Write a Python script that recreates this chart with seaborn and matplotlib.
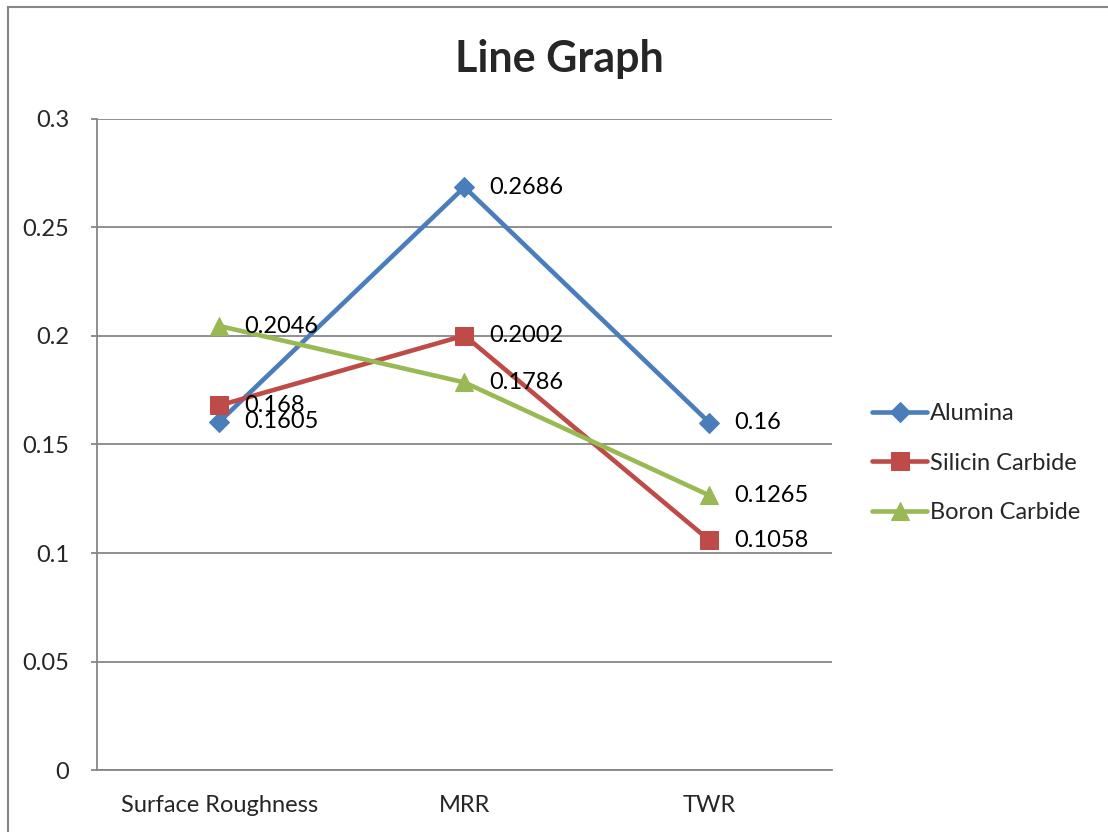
import matplotlib
matplotlib.use("Agg")
import matplotlib.pyplot as plt
import seaborn as sns
import pandas as pd
from matplotlib.patches import Rectangle

# Measured properties for each abrasive
categories = ["Surface Roughness", "MRR", "TWR"]
alumina = [0.1605, 0.2686, 0.16]
silicin_carbide = [0.168, 0.2002, 0.1058]
boron_carbide = [0.2046, 0.1786, 0.1265]
series_names = ["Alumina", "Silicin Carbide", "Boron Carbide"]
y_ticks = [0, 0.05, 0.1, 0.15, 0.2, 0.25, 0.3]
y_tick_labels = ["0", "0.05", "0.1", "0.15", "0.2", "0.25", "0.3"]

sns.set_theme(style="white")
plt.rcParams["font.family"] = ["Lato", "DejaVu Sans"]

colors = {"Alumina": "#4A7EBB", "Silicin Carbide": "#BE4B48", "Boron Carbide": "#98B954"}
markers = {"Alumina": "D", "Silicin Carbide": "s", "Boron Carbide": "^"}
sizes = {"Alumina": 10, "Silicin Carbide": 13, "Boron Carbide": 13}

rows = []
for name, vals in zip(series_names, [alumina, silicin_carbide, boron_carbide]):
    for i, (cat, v) in enumerate(zip(categories, vals)):
        rows.append({"Category": cat, "pos": i, "Value": v, "Series": name})
df = pd.DataFrame(rows)

fig = plt.figure(figsize=(11.08, 8.32), dpi=100)
ax = fig.add_axes([0.0875, 0.0745, 0.6634, 0.7825])

# outer chart frame
fig.patches.append(Rectangle((8 / 1108, -0.05), 1.2, 1 - 7 / 832 + 0.05,
                             transform=fig.transFigure, fill=False,
                             edgecolor="#868686", linewidth=1.5, zorder=0))

for name in series_names:
    sub = df[df["Series"] == name]
    sns.lineplot(data=sub, x="pos", y="Value", ax=ax, color=colors[name],
                 marker=markers[name], markersize=sizes[name],
                 markeredgecolor=colors[name], linewidth=3.3, label=name,
                 sort=False, zorder=3)
    for _, r in sub.iterrows():
        ax.annotate(f"{r['Value']:g}", (r["pos"], r["Value"]),
                    xytext=(18, 0), textcoords="offset points",
                    va="center", ha="left", fontsize=17, color="black",
                    zorder=4)

ax.set_xlim(-0.5, 2.5)
ax.set_ylim(0, 0.3)
ax.set_xticks(range(len(categories)))
ax.set_xticklabels(categories, fontsize=17)
ax.set_yticks(y_ticks)
ax.set_yticklabels(y_tick_labels, fontsize=17)
ax.set_xlabel("")
ax.set_ylabel("")

ax.grid(axis="y", color="#868686", linewidth=1.3)
ax.grid(axis="x", visible=False)
ax.set_axisbelow(True)
for side in ["top", "right"]:
    ax.spines[side].set_visible(False)
for side in ["left", "bottom"]:
    ax.spines[side].set_color("#868686")
    ax.spines[side].set_linewidth(1.3)
ax.tick_params(axis="y", which="major", length=4, width=1.3, color="#868686",
               direction="out", left=True, pad=16)
ax.tick_params(axis="x", which="major", length=0, pad=18)

fig.text(0.505, 0.929, "Line Graph", ha="center", va="center",
         fontsize=31, fontweight="bold")

leg = ax.legend(loc="center left", bbox_to_anchor=(0.787, 0.4435),
                bbox_transform=fig.transFigure, frameon=False, fontsize=17,
                handlelength=2.35, handletextpad=0.1, labelspacing=1.2,
                borderpad=0, borderaxespad=0)

fig.savefig("out.png", dpi=100, facecolor="white")
